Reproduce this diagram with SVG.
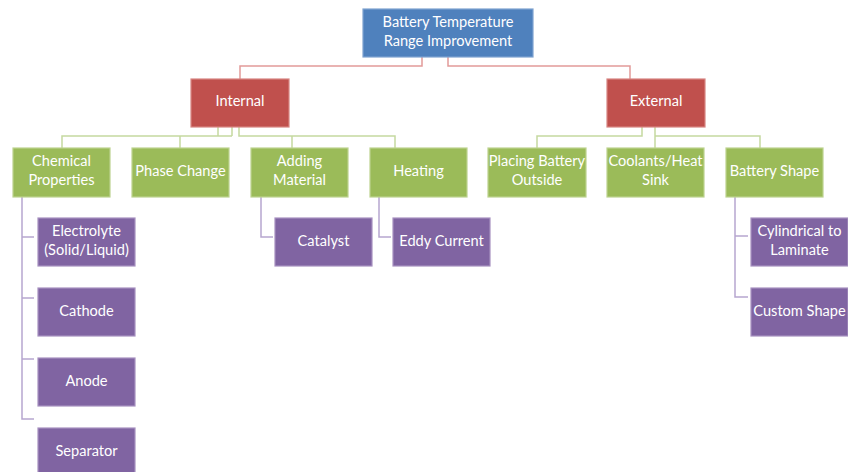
<svg xmlns="http://www.w3.org/2000/svg" width="848" height="472" viewBox="0 0 848 472">
<style>
.box{stroke-width:1.2}
.blue{fill:#4F81BD;stroke:#7FA3D0}
.red{fill:#C0504D;stroke:#D88583}
.green{fill:#9BBB59;stroke:#BDD38F}
.purple{fill:#8064A2;stroke:#A791C0}
text{font-family:Lato,"Liberation Sans",sans-serif;font-size:14.6px;fill:#FFFFFF;text-anchor:middle}
.cr{stroke:#E29B99;stroke-width:1.5;fill:none}
.cg{stroke:#C5D9A0;stroke-width:1.5;fill:none}
.cp{stroke:#B7A6CF;stroke-width:1.5;fill:none}
</style>
<rect width="848" height="472" fill="#FFFFFF"/>
<g id="connectors">
<path class="cr" d="M422,57 V66 H240 V79 M448,57 V66 H630 V79"/>
<path class="cg" d="M218,127 V136 M232,127 V136 M62,149 V136 H232 M180,136 V149 M239,127 V136 H395 V149 M292,136 V149"/>
<path class="cg" d="M642,127 V136 H537 V149 M655,127 V149 M655,136 H760 V149"/>
<path class="cp" d="M22,197 V419 H34 M22,237 H34 M22,298 H34 M22,359 H34"/>
<path class="cp" d="M261,197 V237 H273 M379,197 V237 H391"/>
<path class="cp" d="M735,197 V297 H748 M735,236 H748"/>
</g>
<g id="root"><rect class="box blue" x="363" y="9" width="170" height="48"/><text x="448" y="27">Battery Temperature</text><text x="448" y="46">Range Improvement</text></g>
<g id="internal"><rect class="box red" x="191" y="79" width="98" height="48"/><text x="240" y="106">Internal</text></g>
<g id="external"><rect class="box red" x="607" y="79" width="98" height="48"/><text x="656" y="106">External</text></g>
<g id="chemical"><rect class="box green" x="13" y="148" width="97" height="49"/><text x="61.5" y="166">Chemical</text><text x="61.5" y="185">Properties</text></g>
<g id="phase"><rect class="box green" x="132" y="148" width="97" height="49"/><text x="180.5" y="176">Phase Change</text></g>
<g id="adding"><rect class="box green" x="251" y="148" width="97" height="49"/><text x="299.5" y="166">Adding</text><text x="299.5" y="185">Material</text></g>
<g id="heating"><rect class="box green" x="370" y="148" width="97" height="49"/><text x="418.5" y="176">Heating</text></g>
<g id="placing"><rect class="box green" x="488" y="148" width="98" height="49"/><text x="537" y="166">Placing Battery</text><text x="537" y="185">Outside</text></g>
<g id="coolants"><rect class="box green" x="607" y="148" width="97" height="49"/><text x="655.5" y="166">Coolants/Heat</text><text x="655.5" y="185">Sink</text></g>
<g id="shape"><rect class="box green" x="726" y="148" width="97" height="49"/><text x="774.5" y="176">Battery Shape</text></g>
<g id="electrolyte"><rect class="box purple" x="38" y="218" width="97" height="48"/><text x="86.5" y="236">Electrolyte</text><text x="86.5" y="255">(Solid/Liquid)</text></g>
<g id="cathode"><rect class="box purple" x="38" y="288" width="97" height="48"/><text x="86.5" y="316">Cathode</text></g>
<g id="anode"><rect class="box purple" x="38" y="358" width="97" height="48"/><text x="86.5" y="386">Anode</text></g>
<g id="separator"><rect class="box purple" x="38" y="428" width="97" height="48"/><text x="86.5" y="456">Separator</text></g>
<g id="catalyst"><rect class="box purple" x="275" y="218" width="97" height="48"/><text x="323.5" y="246">Catalyst</text></g>
<g id="eddy"><rect class="box purple" x="393" y="218" width="97" height="48"/><text x="441.5" y="246">Eddy Current</text></g>
<g id="cylindrical"><rect class="box purple" x="751" y="218" width="97" height="48"/><text x="799.5" y="236">Cylindrical to</text><text x="799.5" y="255">Laminate</text></g>
<g id="custom"><rect class="box purple" x="751" y="288" width="97" height="48"/><text x="799.5" y="316">Custom Shape</text></g>
</svg>
